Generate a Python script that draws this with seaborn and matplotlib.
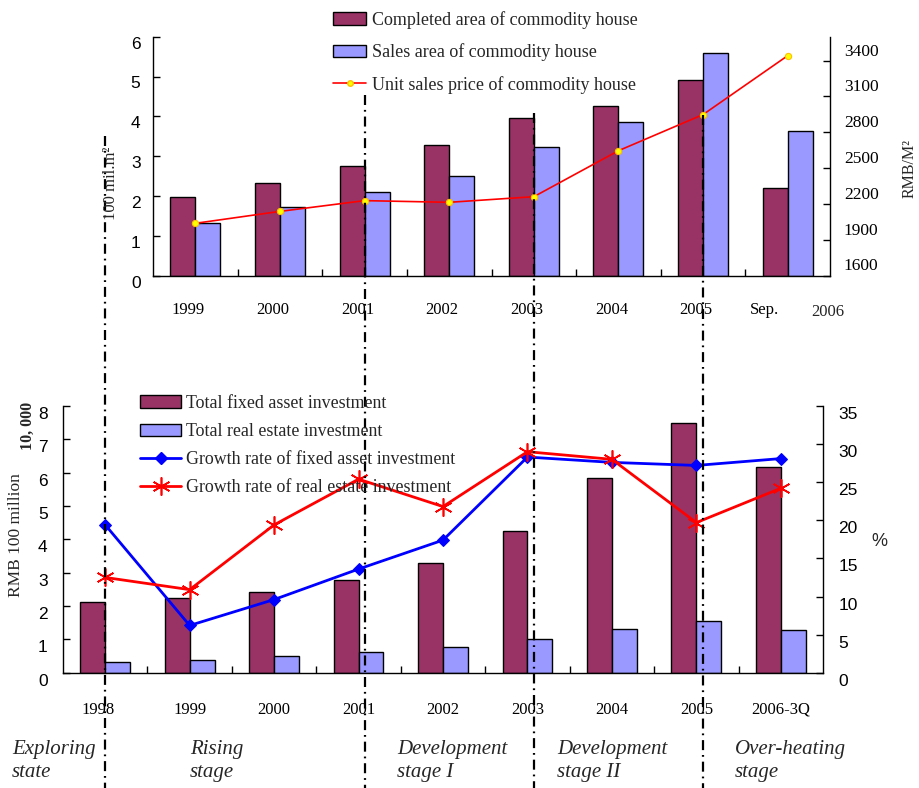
import numpy as np
import pandas as pd
import matplotlib
matplotlib.use("Agg")
import matplotlib.pyplot as plt
import matplotlib.transforms as mtransforms
from matplotlib.lines import Line2D
from matplotlib.patches import Patch
import seaborn as sns

# Commodity housing, 1999 - Sep. 2006
house_years = ["1999", "2000", "2001", "2002", "2003", "2004", "2005", "Sep."]
completed_area = [1.97, 2.32, 2.74, 3.28, 3.95, 4.26, 4.91, 2.21]   # 100 mil. m2
sales_area = [1.32, 1.71, 2.09, 2.50, 3.23, 3.85, 5.60, 3.62]       # 100 mil. m2
unit_price = [2037, 2137, 2227, 2213, 2260, 2645, 2948, 3441]       # RMB/m2

# Investment, 1998 - 2006-3Q
inv_years = ["1998", "1999", "2000", "2001", "2002", "2003", "2004", "2005", "2006-3Q"]
fixed_asset_inv = [2.11, 2.24, 2.41, 2.79, 3.29, 4.26, 5.83, 7.49, 6.18]   # RMB 100 million x 10,000
real_estate_inv = [0.33, 0.37, 0.50, 0.63, 0.76, 1.01, 1.30, 1.56, 1.27]
fixed_growth = [19.4, 6.2, 9.6, 13.6, 17.4, 28.3, 27.6, 27.2, 28.1]        # %
real_estate_growth = [12.5, 10.9, 19.4, 25.4, 21.8, 29.0, 28.0, 19.7, 24.2]  # %

stage_names = ["Exploring\nstate", "Rising\nstage", "Development\nstage I",
               "Development\nstage II", "Over-heating\nstage"]
stage_breaks = ["1998", "2001", "2003", "2005"]

house_labels = ["Completed area of commodity house", "Sales area of commodity house",
                "Unit sales price of commodity house"]
inv_labels = ["Total fixed asset investment", "Total real estate investment",
              "Growth rate of fixed asset investment", "Growth rate of real estate investment"]

PLUM = "#993366"
PERI = "#9999FF"
SERIF = "Liberation Serif"
SANS = "Liberation Sans"

sns.set_theme(style="white")
plt.rcParams.update({
    "font.family": [SERIF, "DejaVu Sans"],
    "axes.edgecolor": "black",
    "axes.linewidth": 1.0,
    "xtick.color": "black",
    "ytick.color": "black",
    "xtick.major.width": 1.0,
    "ytick.major.width": 1.0,
    "xtick.minor.width": 1.0,
})

W, H = 919, 788
fig = plt.figure(figsize=(W / 100, H / 100), dpi=100)


def fx(px):
    return px / W


def fy(py):
    return 1 - py / H


def shift_labels(labels, dx_px, dy_px):
    off = mtransforms.ScaledTranslation(dx_px / 100, dy_px / 100, fig.dpi_scale_trans)
    for lab in labels:
        lab.set_transform(lab.get_transform() + off)


# ---------------- top panel: housing ----------------
ax1 = fig.add_axes([fx(153), fy(275.5), (830 - 153) / W, (275.5 - 36.7) / H])
house_df = pd.DataFrame({
    "year": house_years * 2,
    "series": [house_labels[0]] * len(house_years) + [house_labels[1]] * len(house_years),
    "value": completed_area + sales_area,
})
sns.barplot(data=house_df, x="year", y="value", hue="series", order=house_years,
            palette=[PLUM, PERI], saturation=1, width=0.59, edgecolor="black",
            linewidth=1.0, legend=False, ax=ax1)
ax1.set_xlim(-0.5, len(house_years) - 0.5)
ax1.set_ylim(0, 6)
ax1.set_yticks(range(0, 7))
ax1.set_xlabel("")
ax1.set_ylabel("")
ax1.set_xticks(range(len(house_years)))
ax1.set_xticklabels(house_years, fontsize=12, family=SERIF)
ax1.set_xticks(np.arange(0.5, len(house_years) - 0.5, 1), minor=True)
ax1.tick_params(axis="x", which="major", length=0, pad=19)
ax1.tick_params(axis="x", which="minor", direction="in", length=5, bottom=True)
ax1.tick_params(axis="y", direction="in", length=5, pad=9, left=True)
for lab in ax1.get_yticklabels():
    lab.set_fontfamily(SANS)
    lab.set_fontsize(12.5)
ax1.spines["top"].set_visible(False)
ax1.spines["right"].set_visible(False)

ax2 = ax1.twinx()
sns.lineplot(x=np.arange(len(house_years)), y=unit_price, ax=ax2, color="red",
             linewidth=1.2, marker="o", markersize=4.5, markerfacecolor="yellow",
             markeredgecolor="#FFC000", markeredgewidth=0.8)
ax2.set_ylim(1600, 3600)
ax2.set_yticks(range(1600, 3401, 300))
ax2.set_ylabel("")
ax2.tick_params(axis="y", direction="in", length=5, pad=10, right=True)
for lab in ax2.get_yticklabels():
    lab.set_fontfamily(SERIF)
    lab.set_fontsize(12.5)
for s in ["top", "left", "bottom"]:
    ax2.spines[s].set_visible(False)

shift_labels(ax1.get_yticklabels(), 0, -6)
shift_labels(ax2.get_yticklabels(), 0, 11)
xl = ax1.get_xticklabels()
shift_labels(xl[:-1], -7, 0)
shift_labels(xl[-1:], -23, 0)
fig.text(fx(828), fy(312), "2006", ha="center", va="center", fontsize=12, family=SERIF)

fig.text(fx(111), fy(183), "100 mil.m²", rotation=90, ha="center", va="center",
         fontsize=12, family=SERIF)
fig.text(fx(910), fy(168), "RMB/M²", rotation=90, ha="center", va="center",
         fontsize=11.5, family=SERIF)

top_handles = [
    Patch(facecolor=PLUM, edgecolor="black", linewidth=1.0),
    Patch(facecolor=PERI, edgecolor="black", linewidth=1.0),
    Line2D([], [], color="red", linewidth=1.2, marker="o", markersize=4,
           markerfacecolor="yellow", markeredgecolor="#FFC000"),
]
fig.legend(top_handles, house_labels, loc="upper left", bbox_to_anchor=(fx(333), fy(11)),
           frameon=False, borderpad=0, borderaxespad=0, handlelength=1.85,
           handleheight=0.7, handletextpad=0.3, labelspacing=0.8,
           prop={"family": SERIF, "size": 13})

# ---------------- bottom panel: investment ----------------
ax3 = fig.add_axes([fx(63), fy(672.7), (823 - 63) / W, (672.7 - 406) / H])
inv_df = pd.DataFrame({
    "year": inv_years * 2,
    "series": [inv_labels[0]] * len(inv_years) + [inv_labels[1]] * len(inv_years),
    "value": fixed_asset_inv + real_estate_inv,
})
sns.barplot(data=inv_df, x="year", y="value", hue="series", order=inv_years,
            palette=[PLUM, PERI], saturation=1, width=0.59, edgecolor="black",
            linewidth=1.0, legend=False, ax=ax3)
ax3.set_xlim(-0.5, len(inv_years) - 0.5)
ax3.set_ylim(0, 8)
ax3.set_yticks(range(0, 9))
ax3.set_xlabel("")
ax3.set_ylabel("")
ax3.set_xticks(range(len(inv_years)))
ax3.set_xticklabels(inv_years, fontsize=12, family=SERIF)
ax3.set_xticks(np.arange(0.5, len(inv_years) - 0.5, 1), minor=True)
ax3.tick_params(axis="x", which="major", length=0, pad=21)
ax3.tick_params(axis="x", which="minor", direction="in", length=5, bottom=True)
ax3.tick_params(axis="y", direction="in", length=5, pad=11, left=True)
for lab in ax3.get_yticklabels():
    lab.set_fontfamily(SANS)
    lab.set_fontsize(12.5)
ax3.spines["top"].set_visible(False)
ax3.spines["right"].set_visible(False)

ax4 = ax3.twinx()
xs = np.arange(len(inv_years))
sns.lineplot(x=xs, y=fixed_growth, ax=ax4, color="#0000FF", linewidth=2.0,
             marker="D", markersize=6, markeredgecolor="#0000FF")
sns.lineplot(x=xs, y=real_estate_growth, ax=ax4, color="#FF0000", linewidth=2.0,
             marker=(6, 2, 0), markersize=13, markeredgewidth=1.2,
             markeredgecolor="#FF0000")
ax4.set_ylim(0, 35)
ax4.set_yticks(range(0, 36, 5))
ax4.set_ylabel("")
ax4.tick_params(axis="y", direction="in", length=5, pad=11, right=True)
for lab in ax4.get_yticklabels():
    lab.set_fontfamily(SANS)
    lab.set_fontsize(12.5)
for s in ["top", "left", "bottom"]:
    ax4.spines[s].set_visible(False)

shift_labels(ax3.get_yticklabels(), 0, -7)
shift_labels(ax4.get_yticklabels(), 0, -7)
shift_labels(ax3.get_xticklabels()[:1], -7, 0)

fig.text(fx(16), fy(535), "RMB 100 million", rotation=90, ha="center", va="center",
         fontsize=12.5, family=SERIF)
fig.text(fx(28), fy(426), "10, 000", rotation=90, ha="center", va="center",
         fontsize=11.5, family=SERIF, fontweight="bold")
fig.text(fx(879), fy(541), "%", ha="center", va="center", fontsize=13, family=SANS)

bottom_handles = [
    Patch(facecolor=PLUM, edgecolor="black", linewidth=1.0),
    Patch(facecolor=PERI, edgecolor="black", linewidth=1.0),
    Line2D([], [], color="#0000FF", linewidth=2.0, marker="D", markersize=6),
    Line2D([], [], color="#FF0000", linewidth=2.0, marker=(6, 2, 0), markersize=13,
           markeredgewidth=1.2),
]
fig.legend(bottom_handles, inv_labels, loc="upper left", bbox_to_anchor=(fx(140), fy(395)),
           frameon=False, borderpad=0, borderaxespad=0, handlelength=2.3,
           handleheight=0.7, handletextpad=0.25, labelspacing=0.62,
           prop={"family": SERIF, "size": 12.9})

# ---------------- stage boundaries and names ----------------
line_tops = [136, 95, 113, 115]
for yr, top in zip(stage_breaks, line_tops):
    if yr in house_years:
        xpix = ax1.transData.transform((house_years.index(yr), 0))[0]
    else:
        xpix = ax3.transData.transform((inv_years.index(yr), 0))[0]
    xf = fig.transFigure.inverted().transform((xpix, 0))[0]
    fig.add_artist(Line2D([xf, xf], [fy(top), 0], transform=fig.transFigure,
                          color="black", linewidth=1.6, linestyle=(0, (4.5, 2.2, 0.8, 2.2))))

stage_x = [12, 190, 397, 557, 735]
for name, sx in zip(stage_names, stage_x):
    fig.text(fx(sx), fy(761), name, ha="left", va="center", fontsize=15,
             family=SERIF, style="italic", linespacing=1.3)

fig.savefig("out.png", dpi=100)
